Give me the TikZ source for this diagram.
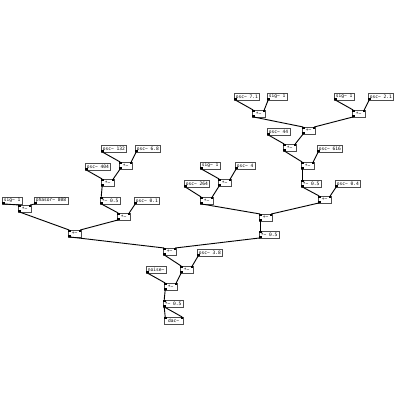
\documentclass[tikz,border=0pt]{standalone}
\usepackage{fontspec}
\setmonofont{DejaVu Sans Mono}
\usetikzlibrary{positioning}

\begin{document}
\begin{tikzpicture}[
    x=1pt, y=-1pt,
    obj/.style={draw=black!70, line width=0.4pt, fill=white, anchor=north west,
      inner xsep=1.6pt, inner ysep=0pt, minimum width=13pt, minimum height=6.5pt,
      font=\fontsize{4.6}{5}\ttfamily},
    wire/.style={line width=0.9pt, black},
    port/.style={fill=black}
  ]
    \useasboundingbox (0,0) rectangle (400,400);

    % top right
    \node[obj] (o71) at (234,93) {osc\~{} 7.1};
    \node[obj] (s1a) at (267,93) {sig\~{} 1};
    \node[obj] (s1b) at (334,93) {sig\~{} 1};
    \node[obj] (o21) at (368,93) {osc\~{} 2.1};
    \node[obj] (m1) at (252,110) {*\~{}};
    \node[obj] (m2) at (352,110) {*\~{}};
    \node[obj] (p1) at (302,127) {+\~{}};
    \node[obj] (o44) at (267,128) {osc\~{} 44};
    \node[obj] (m3) at (283,144) {*\~{}};
    \node[obj] (o616) at (317,145) {osc\~{} 616};
    \node[obj] (m4) at (301,162) {*\~{}};
    \node[obj] (h1) at (301,180) {*\~{} 0.5};
    \node[obj] (o04) at (335,180) {osc\~{} 0.4};
    \node[obj] (p2) at (318,196) {+\~{}};

    % middle
    \node[obj] (s1c) at (200,162) {sig\~{} 1};
    \node[obj] (o4) at (235,162) {osc\~{} 4};
    \node[obj] (o264) at (184,180) {osc\~{} 264};
    \node[obj] (m5) at (218,179) {*\~{}};
    \node[obj] (m6) at (200,197) {*\~{}};
    \node[obj] (p3) at (259,214) {+\~{}};
    \node[obj] (h2) at (259,231) {*\~{} 0.5};

    % left
    \node[obj] (o132) at (101,145) {osc\~{} 132};
    \node[obj] (o68) at (135,145) {osc\~{} 6.8};
    \node[obj] (o404) at (85,163) {osc\~{} 404};
    \node[obj] (m7) at (119,162) {*\~{}};
    \node[obj] (m8) at (101,179) {*\~{}};
    \node[obj] (s1d) at (2,197) {sig\~{} 1};
    \node[obj] (ph) at (34,197) {phasor\~{} 808};
    \node[obj] (h3) at (100,197) {*\~{} 0.5};
    \node[obj] (o01) at (134,197) {osc\~{} 0.1};
    \node[obj] (m9) at (18,205) {*\~{}};
    \node[obj] (m10) at (117,213) {*\~{}};
    \node[obj] (p4) at (68,230) {+\~{}};

    % output chain
    \node[obj] (p5) at (163,248) {+\~{}};
    \node[obj] (o38) at (197,249) {osc\~{} 3.8};
    \node[obj] (m11) at (180,266) {*\~{}};
    \node[obj] (nz) at (146,266) {noise\~{}};
    \node[obj] (m12) at (164,283) {*\~{}};
    \node[obj] (h4) at (163,300) {*\~{} 0.5};
    \node[obj, minimum width=19pt] (dac) at (164,317) {dac\~{}};

    % wires into left inlets
    \foreach \a/\b in {o71/m1, s1b/m2, m1/p1, o44/m3, m3/m4, m4/h1, h1/p2,
        s1c/m5, o264/m6, m6/p3, p3/h2,
        o132/m7, o404/m8, m8/h3, h3/m10, s1d/m9, m9/p4, p4/p5,
        p5/m11, nz/m12, m12/h4, h4/dac} {
      \draw[wire] ([xshift=1.2pt]\a.south west) -- ([xshift=1.2pt]\b.north west);
      \fill[port] (\a.south west) rectangle ++(2.5pt,1.6pt);
      \fill[port] (\b.north west) rectangle ++(2.5pt,-1.6pt);
    }
    % wires into right inlets
    \foreach \a/\b in {s1a/m1, o21/m2, m2/p1, p1/m3, o616/m4, o04/p2, p2/p3,
        o4/m5, m5/m6, h2/p5,
        o68/m7, m7/m8, o01/m10, ph/m9, m10/p4,
        o38/m11, m11/m12, h4/dac} {
      \draw[wire] ([xshift=1.2pt]\a.south west) -- ([xshift=-1.2pt]\b.north east);
      \fill[port] (\a.south west) rectangle ++(2.5pt,1.6pt);
      \fill[port] (\b.north east) rectangle ++(-2.5pt,-1.6pt);
    }
  \end{tikzpicture}
\end{document}
